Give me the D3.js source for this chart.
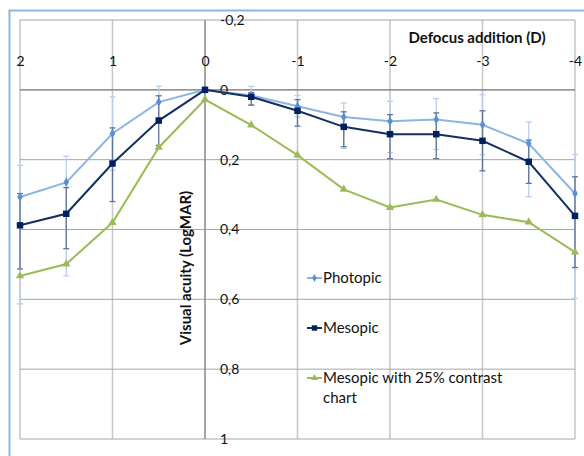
<!DOCTYPE html>
<html>
<head>
<meta charset="utf-8">
<script src="https://cdn.jsdelivr.net/npm/d3@7"></script>
<style>
  html, body { margin: 0; padding: 0; background: #fff; }
  svg { display: block; font-family: Lato, "Open Sans", sans-serif; }
</style>
</head>
<body>
<svg id="chart" width="584" height="456"></svg>
<script>
// Defocus addition (D) on the x axis, visual acuity (LogMAR) on the y axis
const defocus = [2, 1.5, 1, 0.5, 0, -0.5, -1, -1.5, -2, -2.5, -3, -3.5, -4];

const photopic      = [0.307, 0.265, 0.125, 0.035, 0, 0.016, 0.047, 0.078, 0.090, 0.085, 0.100, 0.154, 0.297];
const photopicErrLo = [0.091, 0.075, 0.105, 0.045, 0, 0.026, 0.031, 0.040, 0.057, 0.060, 0.086, 0.062, 0.112];
const photopicErrHi = [0.306, 0.268, 0.105, 0.045, 0, 0.026, 0.031, 0.090, 0.090, 0.086, 0.086, 0.152, 0.300];

const mesopic       = [0.388, 0.355, 0.211, 0.088, 0, 0.020, 0.060, 0.106, 0.127, 0.127, 0.146, 0.206, 0.361];
const mesopicErrLo  = [0.091, 0.075, 0.102, 0.071, 0, 0.012, 0.032, 0.043, 0.056, 0.061, 0.086, 0.062, 0.112];
const mesopicErrHi  = [0.125, 0.100, 0.109, 0.071, 0, 0.024, 0.044, 0.057, 0.070, 0.070, 0.086, 0.062, 0.148];

const mesopicLowContrast = [0.533, 0.499, 0.380, 0.165, 0.028, 0.101, 0.187, 0.285, 0.337, 0.314, 0.358, 0.379, 0.465];

const xTicks = [2, 1, 0, -1, -2, -3, -4];
const yTicks = [-0.2, 0, 0.2, 0.4, 0.6, 0.8, 1];

const svg = d3.select("#chart");

// chart area frame
svg.append("rect")
  .attr("x", 9.5).attr("y", 10.5)
  .attr("width", 600).attr("height", 460)
  .attr("fill", "none")
  .attr("stroke", "#8eb4e3")
  .attr("stroke-width", 2);

const x = d3.scaleLinear().domain([2, -4]).range([20, 575]);
const y = d3.scaleLinear().domain([-0.2, 1]).range([20, 439]);

// gridlines
const grid = svg.append("g");
grid.selectAll(".vgrid").data(xTicks).join("line")
  .attr("x1", d => x(d)).attr("x2", d => x(d))
  .attr("y1", y(-0.2)).attr("y2", y(1))
  .attr("stroke", "#c9c9c9").attr("stroke-width", 1.6);
grid.selectAll(".hgrid").data(yTicks).join("line")
  .attr("x1", x(2)).attr("x2", x(-4))
  .attr("y1", d => y(d)).attr("y2", d => y(d))
  .attr("stroke", "#a6a6a6").attr("stroke-width", 1);

// axis lines crossing at the origin
svg.append("line")
  .attr("x1", x(2)).attr("x2", x(-4)).attr("y1", y(0)).attr("y2", y(0))
  .attr("stroke", "#868686").attr("stroke-width", 1.2);
svg.append("line")
  .attr("x1", x(0)).attr("x2", x(0)).attr("y1", y(-0.2)).attr("y2", y(1))
  .attr("stroke", "#868686").attr("stroke-width", 1.2);

// tick labels (plain hyphen for negatives, comma as decimal separator)
const intFmt = d => String(d);
const xAxis = d3.axisTop(x).tickValues(xTicks).tickSize(0).tickFormat(intFmt);
const gx = svg.append("g").attr("transform", "translate(0,69)").call(xAxis);
gx.select(".domain").remove();
gx.selectAll("text").attr("font-size", 14).attr("fill", "#111").attr("font-family", "Lato, sans-serif");

const commaFmt = d => String(d).replace(".", ",");
const yAxis = d3.axisRight(y).tickValues(yTicks).tickSize(0).tickPadding(0).tickFormat(commaFmt);
const gy = svg.append("g").attr("transform", `translate(${x(0) + 15},0)`).call(yAxis);
gy.select(".domain").remove();
gy.selectAll("text").attr("font-size", 14).attr("fill", "#111").attr("font-family", "Lato, sans-serif")
  .attr("text-anchor", "start");

// axis titles
svg.append("text")
  .attr("x", 477).attr("y", 43)
  .attr("text-anchor", "middle")
  .attr("font-size", 15).attr("font-weight", "bold").attr("fill", "#111")
  .text("Defocus addition (D)");
svg.append("text")
  .attr("transform", "translate(191,268) rotate(-90)")
  .attr("text-anchor", "middle")
  .attr("font-size", 15).attr("font-weight", "bold").attr("fill", "#111")
  .text("Visual acuity (LogMAR)");

// error bars
function errorBars(vals, lo, hi, color) {
  const g = svg.append("g").attr("stroke", color).attr("stroke-width", 1.3);
  defocus.forEach((d, i) => {
    if (lo[i] === 0 && hi[i] === 0) return;
    const cx = x(d), y1 = y(vals[i] - lo[i]), y2 = y(vals[i] + hi[i]);
    g.append("line").attr("x1", cx).attr("x2", cx).attr("y1", y1).attr("y2", y2);
    g.append("line").attr("x1", cx - 3).attr("x2", cx + 3).attr("y1", y1).attr("y2", y1);
    g.append("line").attr("x1", cx - 3).attr("x2", cx + 3).attr("y1", y2).attr("y2", y2);
  });
}
errorBars(photopic, photopicErrLo, photopicErrHi, "#b9cfea");
errorBars(mesopic, mesopicErrLo, mesopicErrHi, "#60749a");

const line = d3.line().x((d, i) => x(defocus[i])).y(d => y(d));

const series = [
  { name: "Photopic", values: photopic, color: "#8db4e2", marker: "#5b8fd2", shape: d3.symbolDiamond, size: 26 },
  { name: "Mesopic", values: mesopic, color: "#13305e", marker: "#002060", shape: d3.symbolSquare, size: 42 },
  { name: "Mesopic with 25% contrast", values: mesopicLowContrast, color: "#9bbb59", marker: "#9bbb59", shape: d3.symbolTriangle, size: 30 }
];

series.forEach(s => {
  svg.append("path").datum(s.values)
    .attr("d", line)
    .attr("fill", "none")
    .attr("stroke", s.color)
    .attr("stroke-width", 2);
  svg.append("g").selectAll("path").data(s.values).join("path")
    .attr("transform", (d, i) => `translate(${x(defocus[i])},${y(d)})`)
    .attr("d", d3.symbol().type(s.shape).size(s.size))
    .attr("fill", s.marker);
});

// legend
const legendY = [278, 328, 378];
series.forEach((s, i) => {
  const g = svg.append("g").attr("transform", `translate(307,${legendY[i]})`);
  g.append("line").attr("x1", 0).attr("x2", 15).attr("y1", 0).attr("y2", 0)
    .attr("stroke", s.color).attr("stroke-width", 2);
  g.append("path").attr("transform", "translate(7.5,0)")
    .attr("d", d3.symbol().type(s.shape).size(s.size * 0.7))
    .attr("fill", s.marker);
  const t = g.append("text").attr("x", 16).attr("y", 5)
    .attr("font-size", 15).attr("fill", "#111");
  if (i === 2) {
    t.append("tspan").attr("x", 16).text("Mesopic with 25% contrast");
    t.append("tspan").attr("x", 16).attr("dy", 20).text("chart");
  } else {
    t.text(s.name);
  }
});
</script>
</body>
</html>
